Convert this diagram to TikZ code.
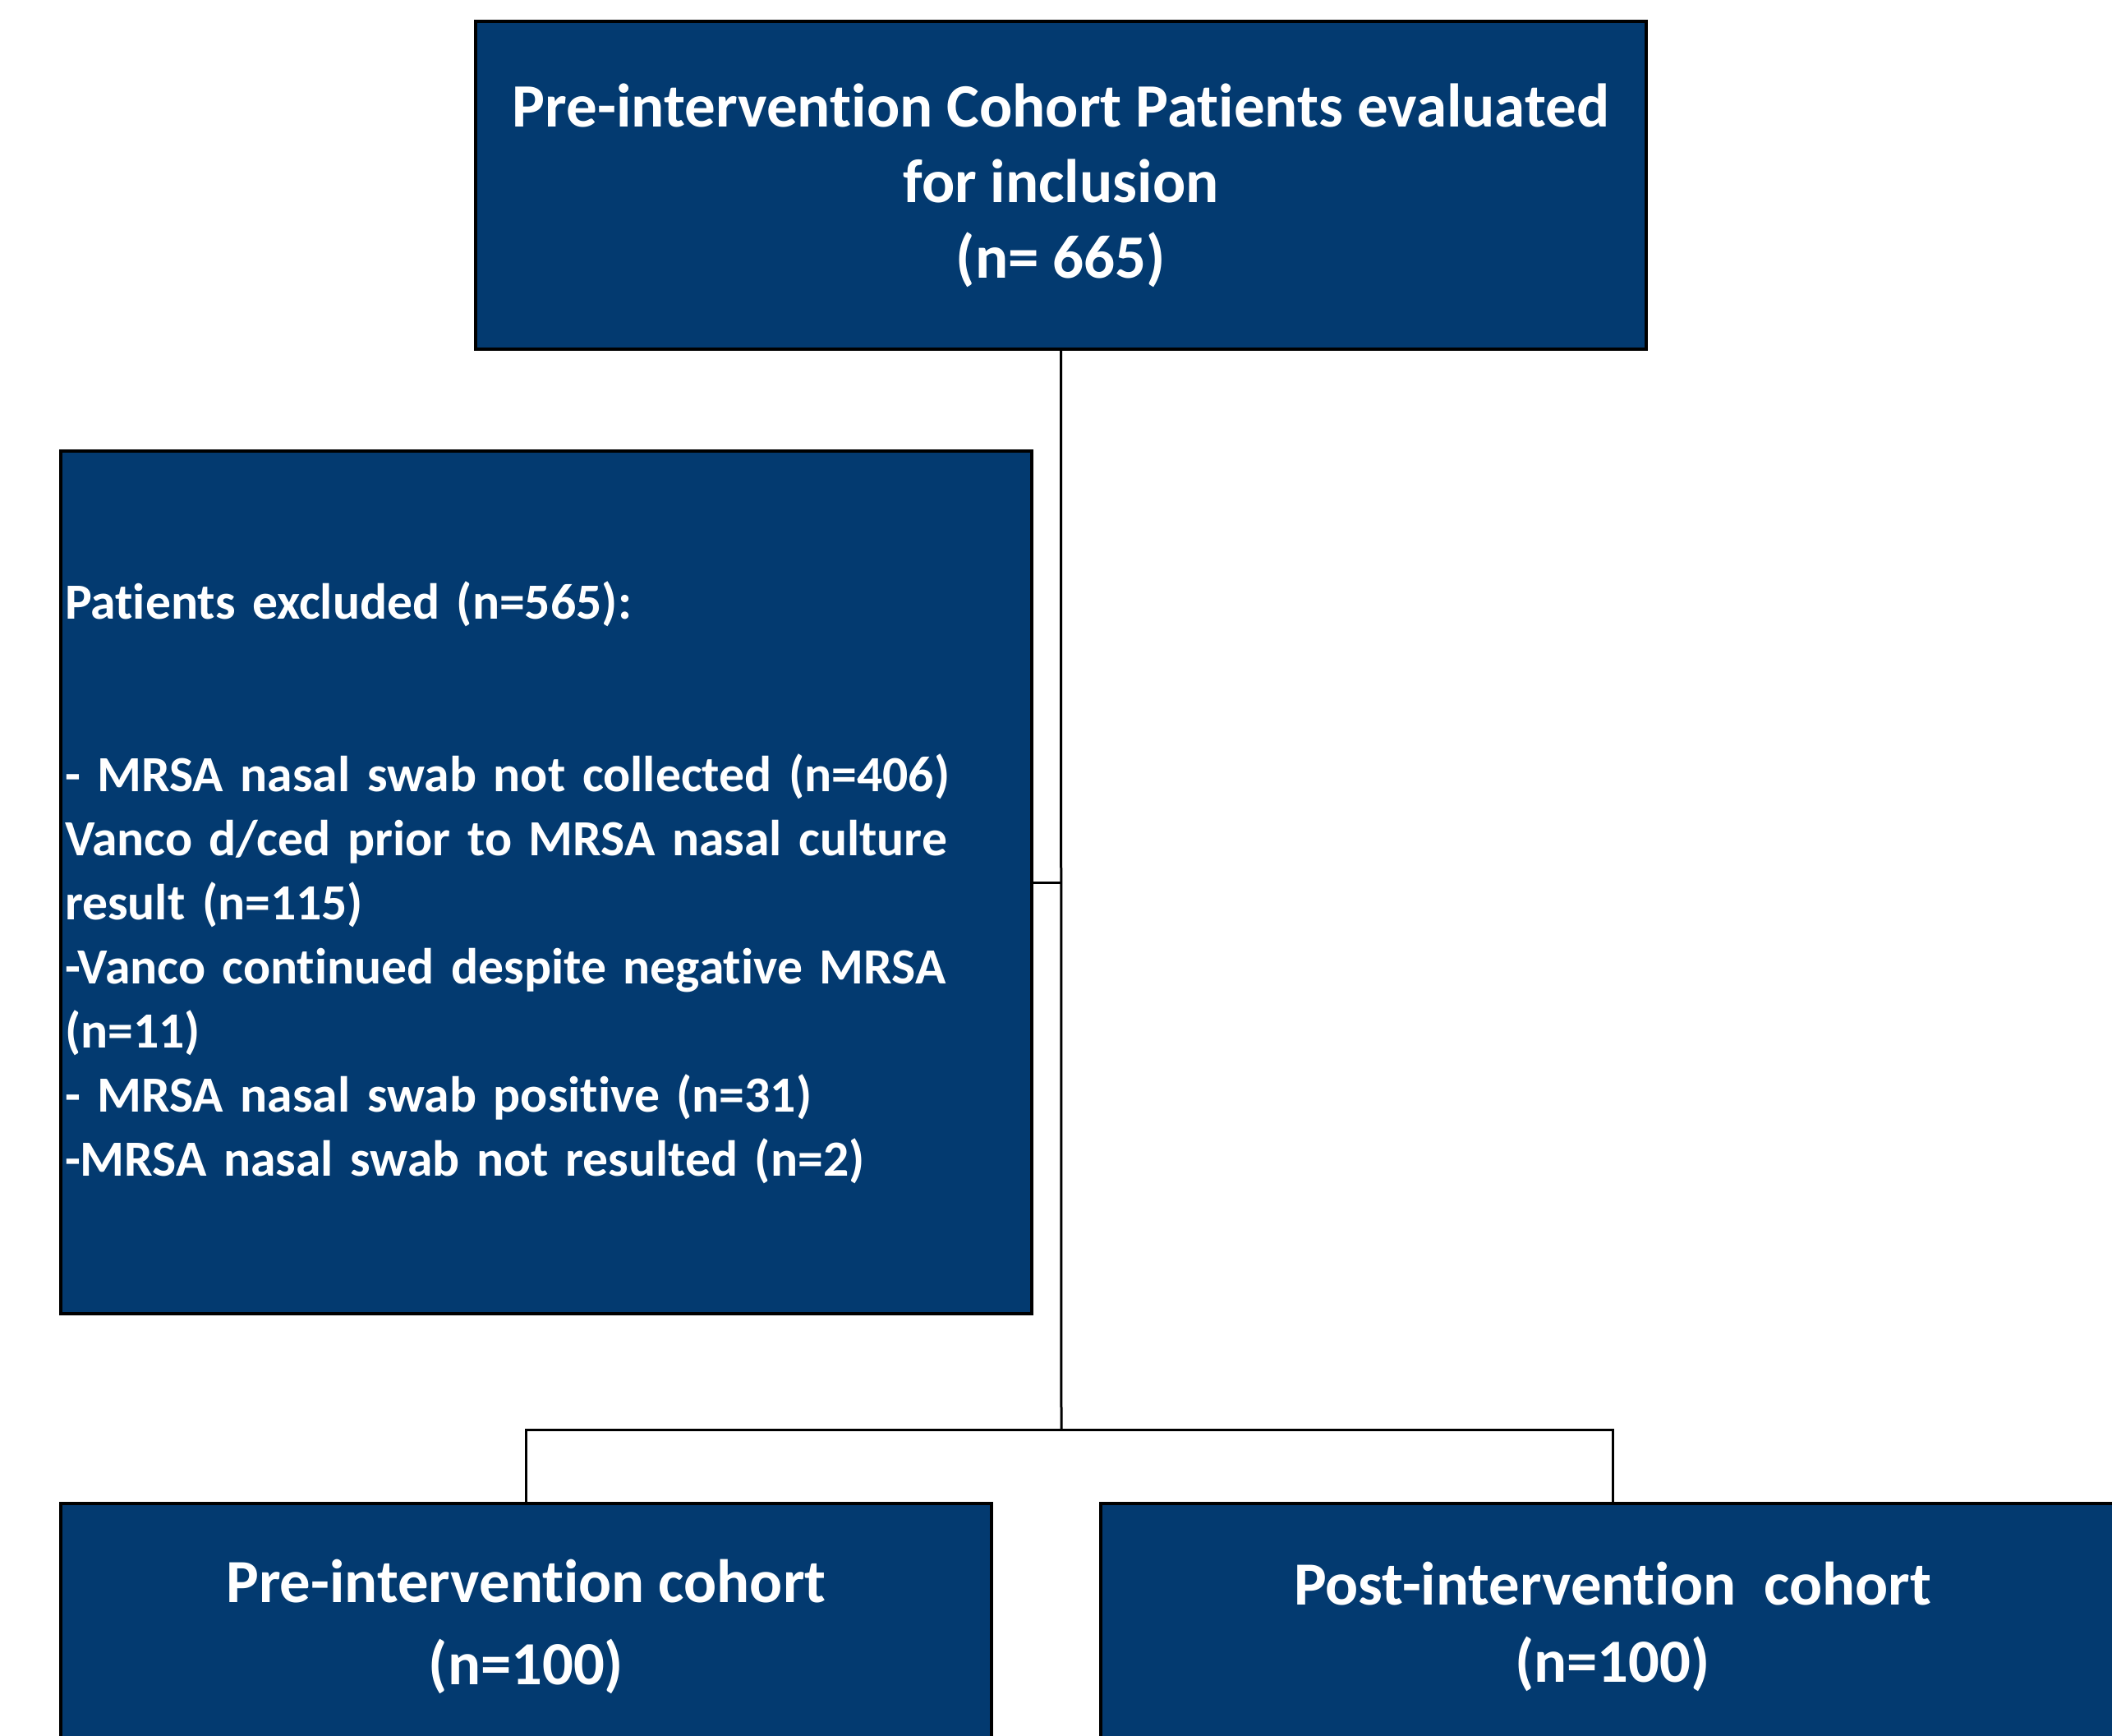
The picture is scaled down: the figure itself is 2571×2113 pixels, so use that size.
\documentclass[tikz,border=0pt]{standalone}
\usepackage{fontspec}
\setmainfont{Carlito}[Ligatures=NoCommon]
\usetikzlibrary{positioning}
\definecolor{navy}{HTML}{033A70}

\begin{document}
\begin{tikzpicture}[
  x=0.3pt, y=-0.3pt,
  box/.style={draw=black, fill=navy, text=white, line width=1pt, align=center, font=\bfseries, inner sep=1.5pt},
  link/.style={draw=black, line width=0.9pt}]
  \useasboundingbox (0,0) rectangle (2571,2113);
  \node[box, minimum width=427.5pt, minimum height=119.7pt, font=\bfseries\fontsize{22.5}{27.6}\selectfont] (pool) at (1291.5,225.5)
    {Pre-intervention Cohort Patients evaluated\\ for inclusion\\ (n= 665)};
  \node[box, align=left, text width=351.6pt, minimum height=315pt, font=\bfseries\fontsize{18.5}{23.4}\selectfont] (excl) at (665,1074)
    {Patients excluded (n=565):\\[39.6pt]
     - MRSA nasal swab not collected (n=406)\\
     Vanco d/ced prior to MRSA nasal culture\\
     result (n=115)\\
     -Vanco continued despite negative MRSA\\
     (n=11)\\
     - MRSA nasal swab positive (n=31)\\
     -MRSA nasal swab not resulted (n=2)};
  \node[box, minimum width=339.9pt, minimum height=90pt, font=\bfseries\fontsize{22.4}{30}\selectfont] (pre) at (640.5,1980)
    {Pre-intervention cohort\\ (n=100)};
  \node[box, minimum width=373.8pt, minimum height=90pt, font=\bfseries\fontsize{22.4}{28}\selectfont] (post) at (1963,1980)
    {Post-intervention~ cohort\\ (n=100)};
  \coordinate (bus) at (1292,1740);

  \draw[link] (pool.south) -- (bus);
  \draw[link] (excl.east) -- (excl.east -| pool.south);
  \draw[link] (pre.north) |- (bus) -| (post.north);
\end{tikzpicture}
\end{document}
